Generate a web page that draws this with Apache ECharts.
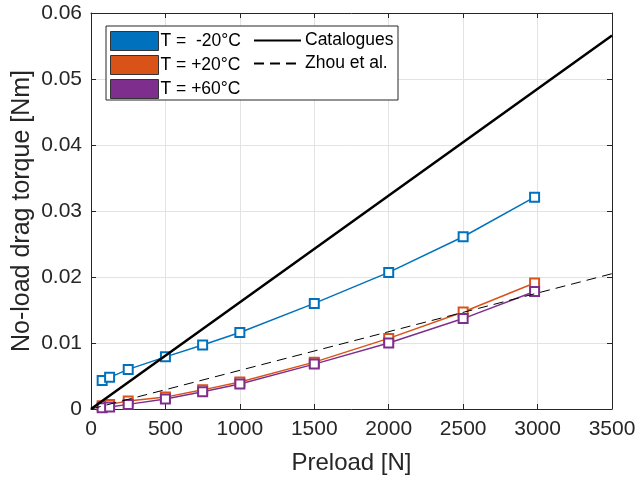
<!DOCTYPE html>
<html>
<head>
<meta charset="utf-8">
<script src="https://cdn.jsdelivr.net/npm/echarts@6/dist/echarts.min.js"></script>
<style>
  html, body { margin: 0; padding: 0; background: #fff; }
  #chart { width: 636px; height: 480px; }
</style>
</head>
<body>
<div id="chart"></div>
<script>
// preload values [N]
const preload = [75, 125, 250, 500, 750, 1000, 1500, 2000, 2500, 2980];
// no-load drag torque [Nm] per temperature
const torqueM20 = [0.0043, 0.0048, 0.0060, 0.0079, 0.0097, 0.0116, 0.0160, 0.0207, 0.0261, 0.0321];
const torqueP20 = [0.0005, 0.0007, 0.0012, 0.0018, 0.0029, 0.0041, 0.0071, 0.0107, 0.0147, 0.0191];
const torqueP60 = [0.0002, 0.0003, 0.0007, 0.0015, 0.0026, 0.0038, 0.0068, 0.0100, 0.0137, 0.0178];
// reference lines
const refPreload = [0, 3500];
const catalogues = [0, 0.0566];
const zhou = [0, 0.0205];

const xTicks = [0, 500, 1000, 1500, 2000, 2500, 3000, 3500];
const yTicks = [0, 0.01, 0.02, 0.03, 0.04, 0.05, 0.06];

const pair = (xs, ys) => xs.map((x, i) => [x, ys[i]]);

const axisColor = '#262626';
const font = 'Liberation Sans, Arial, Helvetica, sans-serif';

const chart = echarts.init(document.getElementById('chart'), null, { renderer: 'canvas' });

const measured = (name, values, color) => ({
  name,
  type: 'line',
  data: pair(preload, values),
  symbol: 'emptyRect',
  symbolSize: 9,
  lineStyle: { color, width: 1.5 },
  itemStyle: { color, borderWidth: 1.5 },
  z: 3,
});

const legendText = { fontSize: 17.5, lineHeight: 19, color: '#000', fontFamily: font, padding: [0, 0, 0, -3] };

chart.setOption({
  animation: false,
  textStyle: { fontFamily: font },
  grid: { left: 91, right: 24, top: 13, bottom: 71, containLabel: false, outerBoundsMode: 'none' },
  graphic: [{
    type: 'rect',
    shape: { x: 106, y: 26, width: 292, height: 74 },
    style: { fill: '#fff', stroke: axisColor, lineWidth: 1 },
    z: 90,
  }],
  legend: [{
    orient: 'vertical',
    left: 110,
    top: 31,
    padding: 0,
    itemWidth: 48,
    itemHeight: 19,
    itemGap: 4,
    z: 100,
    textStyle: legendText,
    data: [
      { name: 'T =  -20°C', icon: 'rect', itemStyle: { color: '#0072BD', borderColor: '#333', borderWidth: 1 } },
      { name: 'T = +20°C', icon: 'rect', itemStyle: { color: '#D95319', borderColor: '#333', borderWidth: 1 } },
      { name: 'T = +60°C', icon: 'rect', itemStyle: { color: '#7E2F8E', borderColor: '#333', borderWidth: 1 } },
    ],
  }, {
    orient: 'vertical',
    left: 253,
    top: 31,
    padding: 0,
    itemWidth: 47,
    itemHeight: 19,
    itemGap: 4,
    z: 100,
    textStyle: Object.assign({}, legendText, { padding: [0, 0, 0, -1] }),
    data: [
      { name: 'Catalogues', itemStyle: { opacity: 0 } },
      { name: 'Zhou et al.', itemStyle: { opacity: 0 } },
    ],
  }],
  xAxis: [{
    type: 'value',
    min: 0,
    max: 3500,
    interval: 500,
    name: 'Preload [N]',
    nameLocation: 'middle',
    nameGap: 42,
    nameMoveOverlap: false,
    nameTextStyle: { fontSize: 24, color: axisColor, fontFamily: font },
    axisLine: { onZero: false, lineStyle: { color: axisColor, width: 1 } },
    axisTick: { inside: true, length: 5, lineStyle: { color: axisColor } },
    axisLabel: { fontSize: 21, color: axisColor, margin: 10, fontFamily: font,
      formatter: v => xTicks.includes(v) ? String(v) : '' },
    splitLine: { lineStyle: { color: '#e3e3e3', width: 1 } },
  }, {
    type: 'value',
    position: 'top',
    min: 0,
    max: 3500,
    interval: 500,
    axisLine: { onZero: false, lineStyle: { color: axisColor, width: 1 } },
    axisTick: { inside: true, length: 5, lineStyle: { color: axisColor } },
    axisLabel: { show: false },
    splitLine: { show: false },
  }],
  yAxis: [{
    type: 'value',
    min: 0,
    max: 0.06,
    interval: 0.01,
    name: 'No-load drag torque [Nm]',
    nameLocation: 'middle',
    nameGap: 56,
    nameMoveOverlap: false,
    nameTextStyle: { fontSize: 25, color: axisColor, fontFamily: font },
    axisLine: { show: true, onZero: false, lineStyle: { color: axisColor, width: 1 } },
    axisTick: { show: true, inside: true, length: 5, lineStyle: { color: axisColor } },
    axisLabel: { fontSize: 21, color: axisColor, margin: 9, fontFamily: font,
      formatter: v => {
        const t = yTicks.find(k => Math.abs(k - v) < 1e-9);
        return t === undefined ? '' : (t === 0 ? '0' : t.toFixed(2));
      } },
    splitLine: { lineStyle: { color: '#e3e3e3', width: 1 } },
  }, {
    type: 'value',
    position: 'right',
    min: 0,
    max: 0.06,
    interval: 0.01,
    axisLine: { show: true, onZero: false, lineStyle: { color: axisColor, width: 1 } },
    axisTick: { show: true, inside: true, length: 5, lineStyle: { color: axisColor } },
    axisLabel: { show: false },
    splitLine: { show: false },
  }],
  series: [
    measured('T =  -20°C', torqueM20, '#0072BD'),
    measured('T = +20°C', torqueP20, '#D95319'),
    measured('T = +60°C', torqueP60, '#7E2F8E'),
    {
      name: 'Catalogues',
      type: 'line',
      data: pair(refPreload, catalogues),
      symbol: 'circle',
      symbolSize: 3,
      showSymbol: false,
      lineStyle: { color: '#000', width: 2.5 },
      itemStyle: { color: '#000' },
      z: 4,
    },
    {
      name: 'Zhou et al.',
      type: 'line',
      data: pair(refPreload, zhou),
      symbol: 'none',
      lineStyle: { color: '#000', width: 1, type: [10, 6] },
      itemStyle: { color: '#000' },
      z: 5,
    },
  ],
});
</script>
</body>
</html>
